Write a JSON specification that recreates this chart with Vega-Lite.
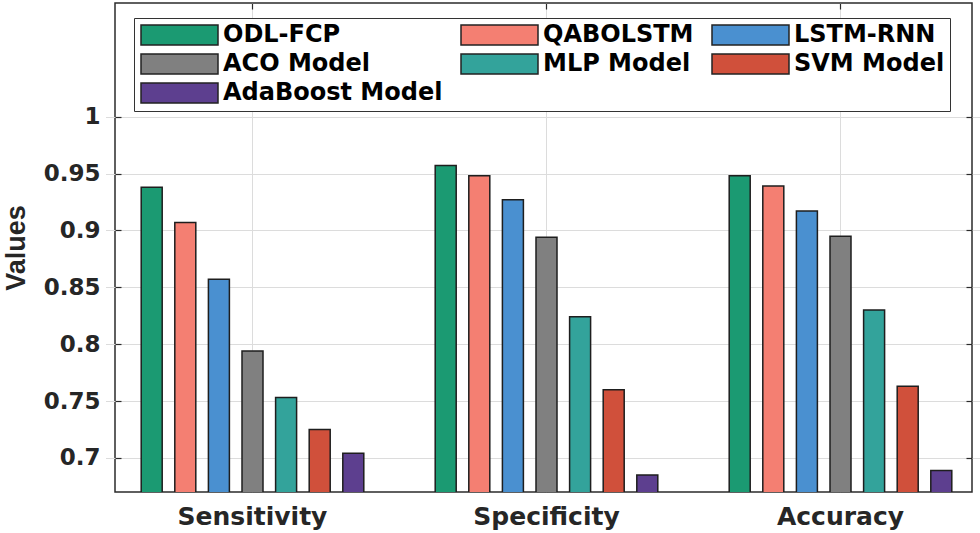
{
  "$schema": "https://vega.github.io/schema/vega-lite/v6.json",
  "width": 857,
  "height": 489,
  "autosize": {"type": "none"},
  "padding": {"left": 115, "top": 3, "right": 8, "bottom": 41},
  "background": "white",
  "data": {
    "values": [
      {"metric": "Sensitivity", "model": "ODL-FCP", "value": 0.938},
      {"metric": "Sensitivity", "model": "QABOLSTM", "value": 0.907},
      {"metric": "Sensitivity", "model": "LSTM-RNN", "value": 0.857},
      {"metric": "Sensitivity", "model": "ACO Model", "value": 0.794},
      {"metric": "Sensitivity", "model": "MLP Model", "value": 0.753},
      {"metric": "Sensitivity", "model": "SVM Model", "value": 0.725},
      {"metric": "Sensitivity", "model": "AdaBoost Model", "value": 0.704},
      {"metric": "Specificity", "model": "ODL-FCP", "value": 0.957},
      {"metric": "Specificity", "model": "QABOLSTM", "value": 0.948},
      {"metric": "Specificity", "model": "LSTM-RNN", "value": 0.927},
      {"metric": "Specificity", "model": "ACO Model", "value": 0.894},
      {"metric": "Specificity", "model": "MLP Model", "value": 0.824},
      {"metric": "Specificity", "model": "SVM Model", "value": 0.760},
      {"metric": "Specificity", "model": "AdaBoost Model", "value": 0.685},
      {"metric": "Accuracy", "model": "ODL-FCP", "value": 0.948},
      {"metric": "Accuracy", "model": "QABOLSTM", "value": 0.939},
      {"metric": "Accuracy", "model": "LSTM-RNN", "value": 0.917},
      {"metric": "Accuracy", "model": "ACO Model", "value": 0.895},
      {"metric": "Accuracy", "model": "MLP Model", "value": 0.830},
      {"metric": "Accuracy", "model": "SVM Model", "value": 0.763},
      {"metric": "Accuracy", "model": "AdaBoost Model", "value": 0.689}
    ]
  },
  "config": {
    "view": {"stroke": "#2b2b2b", "strokeWidth": 1.5},
    "font": "DejaVu Sans",
    "axis": {
      "labelFont": "DejaVu Sans",
      "labelFontWeight": "bold",
      "labelColor": "#262626",
      "gridColor": "#dcdcdc",
      "gridWidth": 1,
      "tickColor": "#2b2b2b",
      "tickWidth": 1.2,
      "domain": false
    },
    "legend": {
      "orient": "none",
      "legendX": 19,
      "legendY": 15,
      "direction": "horizontal",
      "columns": 3,
      "symbolType": "M-1,-1L6.7,-1L6.7,1L-1,1Z",
      "symbolSize": 400,
      "symbolStrokeColor": "#222222",
      "symbolStrokeWidth": 1.5,
      "symbolOpacity": 1,
      "labelFont": "DejaVu Sans",
      "labelFontSize": 24,
      "labelFontWeight": "bold",
      "labelColor": "#000000",
      "labelLimit": 0,
      "labelOffset": 60,
      "strokeColor": "#333333",
      "fillColor": "white",
      "padding": 5,
      "columnPadding": 15,
      "rowPadding": 3
    }
  },
  "layer": [
    {
      "mark": {"type": "bar", "clip": true, "stroke": "#1e1e1e", "strokeWidth": 1.5},
      "encoding": {
        "x": {
          "field": "metric",
          "type": "nominal",
          "sort": ["Sensitivity", "Specificity", "Accuracy"],
          "scale": {"range": [-9.5, 872.5], "paddingInner": 0.2, "paddingOuter": 0.1},
          "axis": {
            "title": null,
            "labelAngle": 0,
            "labelFontSize": 25,
            "labelPadding": 18,
            "grid": true,
            "bandPosition": 0.5,
            "tickSize": -6,
            "orient": "bottom"
          }
        },
        "xOffset": {
          "field": "model",
          "type": "nominal",
          "sort": ["ODL-FCP", "QABOLSTM", "LSTM-RNN", "ACO Model", "MLP Model", "SVM Model", "AdaBoost Model"],
          "scale": {"paddingInner": 0.375, "paddingOuter": 0.1875}
        },
        "y": {
          "field": "value",
          "type": "quantitative",
          "scale": {"domain": [0.67, 1.1], "zero": false, "nice": false},
          "axis": {
            "title": "Values",
            "titleFont": "Liberation Sans",
            "titleFontSize": 27,
            "titleFontWeight": "bold",
            "titleColor": "#262626",
            "titlePadding": 13,
            "values": [0.7, 0.75, 0.8, 0.85, 0.9, 0.95, 1],
            "format": ".2~f",
            "labelFontSize": 23,
            "labelPadding": 21,
            "tickSize": -6,
            "grid": true,
            "orient": "left"
          }
        },
        "color": {
          "field": "model",
          "type": "nominal",
          "scale": {
            "domain": ["ODL-FCP", "QABOLSTM", "LSTM-RNN", "ACO Model", "MLP Model", "SVM Model", "AdaBoost Model"],
            "range": ["#1b9a72", "#f47f72", "#4a90d0", "#808080", "#33a39b", "#d0503b", "#5d3f8f"]
          },
          "legend": {"title": null}
        }
      }
    },
    {
      "mark": {"type": "bar", "opacity": 0, "clip": true},
      "encoding": {
        "x": {
          "field": "metric",
          "type": "nominal",
          "sort": ["Sensitivity", "Specificity", "Accuracy"],
          "scale": {"range": [-9.5, 872.5], "paddingInner": 0.2, "paddingOuter": 0.1},
          "axis": {"orient": "top", "title": null, "labels": false, "grid": false, "bandPosition": 0.5, "tickSize": -6}
        },
        "y": {
          "field": "value",
          "type": "quantitative",
          "scale": {"domain": [0.67, 1.1], "zero": false, "nice": false},
          "axis": {"orient": "right", "title": null, "labels": false, "grid": false, "values": [0.7, 0.75, 0.8, 0.85, 0.9, 0.95, 1], "tickSize": -6}
        }
      }
    }
  ],
  "resolve": {"axis": {"x": "independent", "y": "independent"}}
}
